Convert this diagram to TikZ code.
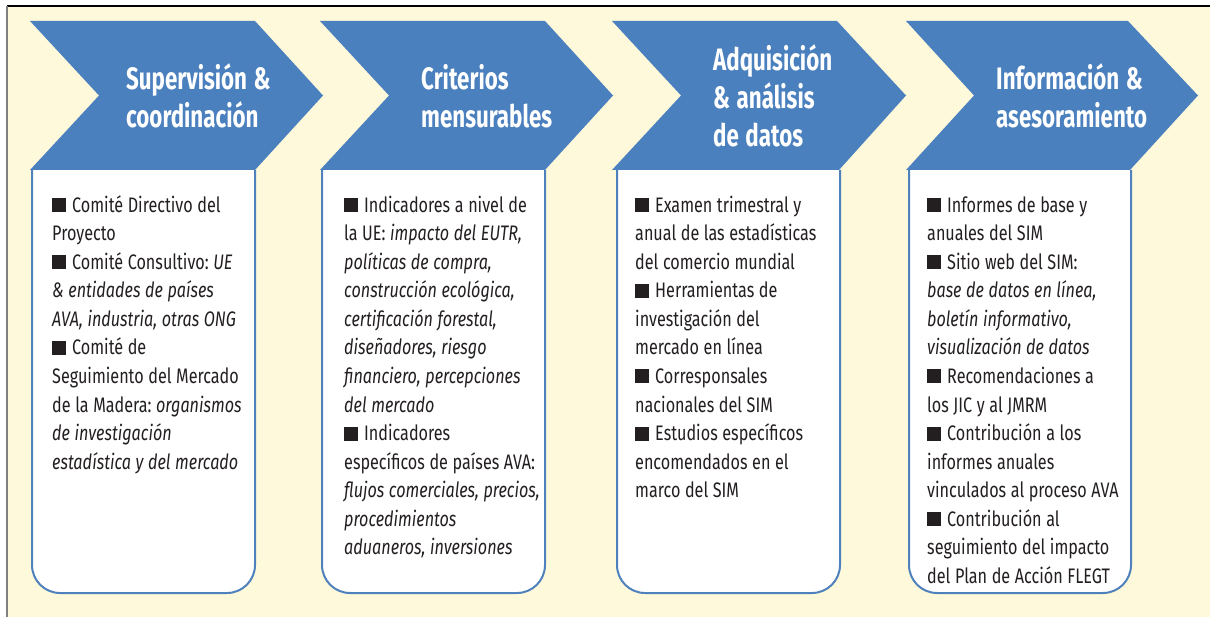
\documentclass[tikz,border=0pt]{standalone}
\usepackage{fontspec}
\setmainfont{Fira Sans}[FakeStretch=0.77]
\newfontfamily\titlefont{Fira Sans}[FakeStretch=0.72]
\definecolor{chevblue}{HTML}{4B80BE}
\definecolor{boxline}{HTML}{4F81BD}
\definecolor{cream}{HTML}{FEF9DB}
\definecolor{ink}{HTML}{231F20}
\frenchspacing
\newcommand\sqb{\rule{14pt}{14pt}\hspace{6pt}}
\newcommand\tsp{\frenchspacing\fontdimen2\font=6.5pt\relax\spaceskip=6.5pt plus 1pt\relax}
\newcommand\bsp{\frenchspacing\fontdimen2\font=4.6pt\relax\spaceskip=4.6pt plus 1pt\relax}
\newcommand\ii[1]{{\itshape\bsp #1}}
\tikzset{
  chev/.style={fill=chevblue},
  panel/.style={fill=white,draw=boxline,line width=2pt,rounded corners=28pt},
  ttl/.style={anchor=north west,inner sep=0pt,text width=260pt,align=left,text=white,
    font=\titlefont\bfseries\fontsize{31}{38.3}\selectfont},
  body/.style={anchor=north west,inner sep=0pt,text width=260pt,align=left,text=ink,
    font=\fontsize{21}{28.55}\selectfont}
}
\begin{document}
\begin{tikzpicture}[x=1pt,y=-1pt]
\useasboundingbox (0,0) rectangle (1210,617);
% background frame
\fill[white] (0,0) rectangle (1210,617);
\fill[cream] (7,6) rectangle (1210,617);
\draw[black,line width=1.2pt] (7,6) -- (1210,6);
\draw[gray,line width=1.2pt] (7,6) -- (7,617);
% panels
\filldraw[panel] (32,170) -- (32,593) -- (255,593) -- (255,170);
\filldraw[panel] (322,170) -- (322,593) -- (545,593) -- (545,170);
\filldraw[panel] (617,170) -- (617,593) -- (840,593) -- (840,170);
\filldraw[panel] (909,170) -- (909,593) -- (1131,593) -- (1131,170);
% chevrons
\fill[chev] (30,21) -- (255,21) -- (323,95.5) -- (255,170) -- (30,170) -- (99,95.5) -- cycle;
\fill[chev] (320,21) -- (545,21) -- (613,95.5) -- (545,170) -- (320,170) -- (389,95.5) -- cycle;
\fill[chev] (612,21) -- (837,21) -- (906,95.5) -- (839,170) -- (612,170) -- (681,95.5) -- cycle;
\fill[chev] (906,21) -- (1128,21) -- (1198,95.5) -- (1130,170) -- (906,170) -- (974,95.5) -- cycle;
% titles
\node[ttl] (t1) at (126,59) {\tsp\rule{0pt}{30pt}Supervisión \&\\coordinación};
\node[ttl] (t2) at (421,59) {\tsp\rule{0pt}{30pt}Criterios\\mensurables};
\node[ttl] (t3) at (713,40) {\tsp\rule{0pt}{30pt}Adquisición\\\& análisis\\de datos};
\node[ttl] (t4) at (996,59) {\tsp\rule{0pt}{30pt}Información \&\\asesoramiento};
% bodies
\node[body] (b1) at (52,188) {\bsp\rule{0pt}{24pt}\sqb Comité Directivo del\\
Proyecto\\
\sqb Comité Consultivo: \ii{UE}\\
\ii{\& entidades de países}\\
\ii{AVA, industria, otras ONG}\\
\sqb Comité de\\
Seguimiento del Mercado\\
de la Madera: \ii{organismos}\\
\ii{de investigación}\\
\ii{estadística y del mercado}};
\node[body] (b2) at (344,188) {\bsp\rule{0pt}{24pt}\sqb Indicadores a nivel de\\
la UE: \ii{impacto del EUTR,}\\
\ii{políticas de compra,}\\
\ii{construcción ecológica,}\\
\ii{certificación forestal,}\\
\ii{diseñadores, riesgo}\\
\ii{financiero, percepciones}\\
\ii{del mercado}\\
\sqb Indicadores\\
específicos de países AVA:\\
\ii{flujos comerciales, precios,}\\
\ii{procedimientos}\\
\ii{aduaneros, inversiones}};
\node[body] (b3) at (635,188) {\bsp\rule{0pt}{24pt}\sqb Examen trimestral y\\
anual de las estadísticas\\
del comercio mundial\\
\sqb Herramientas de\\
investigación del\\
mercado en línea\\
\sqb Corresponsales\\
nacionales del SIM\\
\sqb Estudios específicos\\
encomendados en el\\
marco del SIM};
\node[body] (b4) at (927,188) {\bsp\rule{0pt}{24pt}\sqb Informes de base y\\
anuales del SIM\\
\sqb Sitio web del SIM:\\
\ii{base de datos en línea,}\\
\ii{boletín informativo,}\\
\ii{visualización de datos}\\
\sqb Recomendaciones a\\
los JIC y al JMRM\\
\sqb Contribución a los\\
informes anuales\\
vinculados al proceso AVA\\
\sqb Contribución al\\
seguimiento del impacto\\
del Plan de Acción FLEGT};
\end{tikzpicture}
\end{document}
